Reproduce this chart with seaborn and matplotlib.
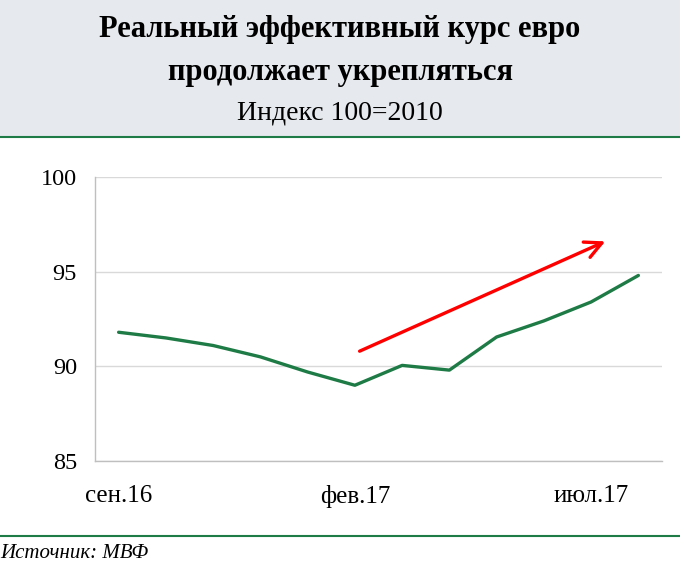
import pandas as pd
import matplotlib.pyplot as plt
import seaborn as sns
from matplotlib.patches import Rectangle
from matplotlib.lines import Line2D

# ---- data ----
months = ['сен.16', 'окт.16', 'ноя.16', 'дек.16', 'янв.17', 'фев.17',
          'мар.17', 'апр.17', 'май.17', 'июн.17', 'июл.17', 'авг.17']
reer = [91.8, 91.5, 91.1, 90.5, 89.7, 89.0, 90.05, 89.8, 91.55, 92.4, 93.4, 94.8]
shown_labels = ['сен.16', 'фев.17', 'июл.17']
arrow_from = (5.1, 90.8)
arrow_to = (10.3, 96.6)

df = pd.DataFrame({'month': months, 'reer': reer})
df['pos'] = range(len(df))

sns.set_style("white")
plt.rcParams['font.family'] = ['Liberation Serif', 'DejaVu Serif']
plt.rcParams['text.color'] = 'black'
plt.rcParams['xtick.color'] = 'black'
plt.rcParams['ytick.color'] = 'black'

fig = plt.figure(figsize=(6.8, 5.64), dpi=100)
H = 564

# ---- header band ----
fig.add_artist(Rectangle((0, 1 - 137 / H), 1, 137 / H, transform=fig.transFigure,
                         facecolor='#E6E9ED', edgecolor='none', zorder=0))
fig.add_artist(Line2D([0, 1], [1 - 137 / H, 1 - 137 / H], transform=fig.transFigure,
                      color='#1E7B45', lw=1.5))
fig.add_artist(Line2D([0, 1], [1 - 536 / H, 1 - 536 / H], transform=fig.transFigure,
                      color='#1E7B45', lw=1.5))

fig.text(0.5, 1 - 30 / H, 'Реальный эффективный курс евро', ha='center', va='center',
         fontsize=22, fontweight='bold')
fig.text(0.5, 1 - 73 / H, 'продолжает укрепляться', ha='center', va='center',
         fontsize=22, fontweight='bold')
fig.text(0.5, 1 - 113 / H, 'Индекс 100=2010', ha='center', va='center', fontsize=20)
fig.text(0.0, 1 - 553 / H, 'Источник: МВФ', ha='left', va='center', fontsize=15,
         style='italic')

# ---- chart ----
ax = fig.add_axes([95 / 680, 1 - 461 / H, (662 - 95) / 680, (461 - 177) / H])
sns.lineplot(data=df, x='pos', y='reer', color='#1E7B45', linewidth=2.4, ax=ax)

ax.annotate('', xy=arrow_to, xytext=arrow_from,
            arrowprops=dict(arrowstyle='->', color='#FF0000', lw=2.4,
                            mutation_scale=30, shrinkA=0, shrinkB=0))

ax.set_xlim(-0.5, len(months) - 0.5)
ax.set_ylim(85, 100)
ax.set_yticks([85, 90, 95, 100])
ax.yaxis.grid(True, color='#D9D9D9', lw=1)
ax.set_xlabel('')
ax.set_ylabel('')

# category boundary ticks, labels centred on categories
ax.set_xticks([-0.5, 4.5, 9.5])
ax.set_xticklabels([])
ax.set_xticks([months.index(m) for m in shown_labels], minor=True)
ax.set_xticklabels(shown_labels, minor=True)
ax.tick_params(axis='x', which='major', length=7, color='#BFBFBF', direction='out')
ax.tick_params(axis='x', which='minor', length=0, labelsize=18, pad=17)
ax.tick_params(axis='y', length=8, color='#BFBFBF', direction='out', labelsize=17.5, pad=5)

for side in ['top', 'right']:
    ax.spines[side].set_visible(False)
for side in ['left', 'bottom']:
    ax.spines[side].set_color('#BFBFBF')
    ax.spines[side].set_linewidth(1)

fig.savefig('out.png', dpi=100)
